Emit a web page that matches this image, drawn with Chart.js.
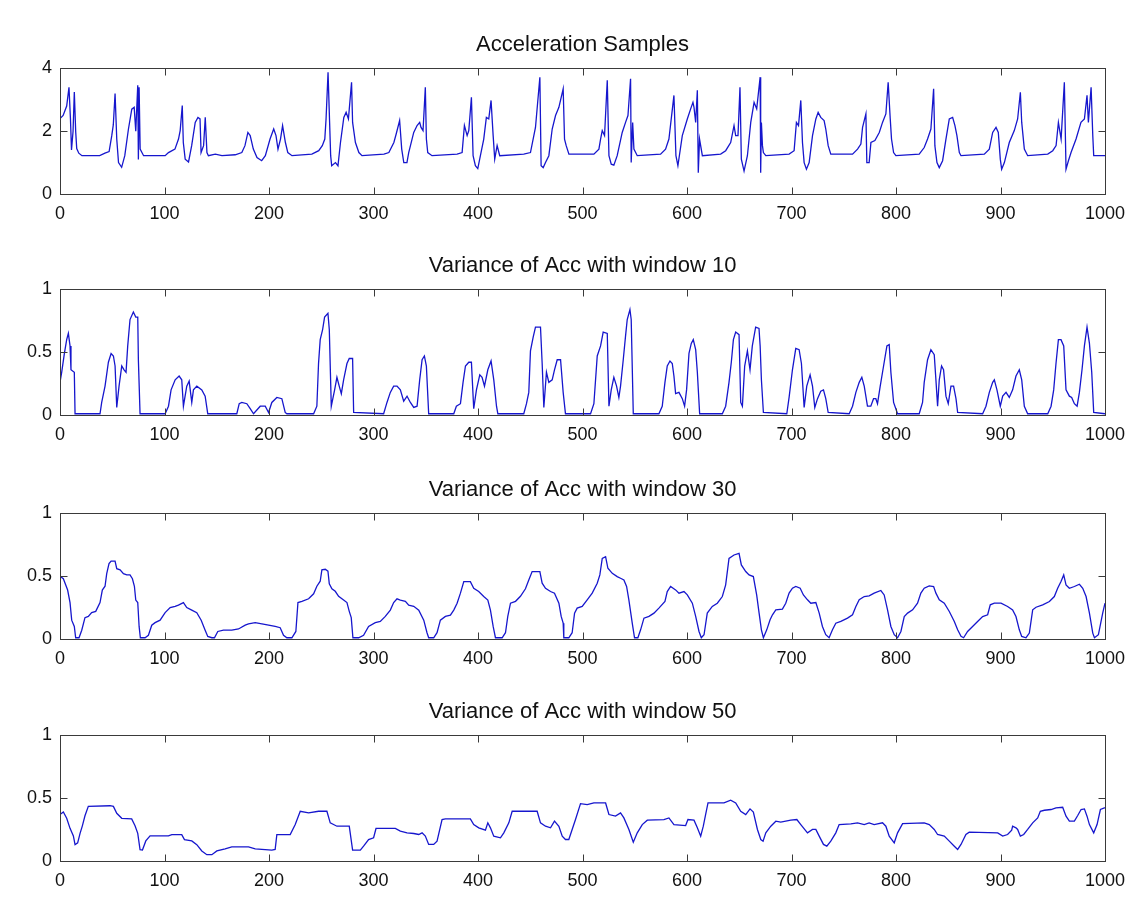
<!DOCTYPE html>
<html>
<head>
<meta charset="utf-8">
<script src="https://cdn.jsdelivr.net/npm/chart.js@4"></script>
<style>
  body { margin: 0; background: #fff; }
  .panel { position: absolute; left: 0; width: 1139px; height: 202px; }
</style>
</head>
<body>
<div class="panel" style="top:32px"><canvas id="c1"></canvas></div>
<div class="panel" style="top:253px"><canvas id="c2"></canvas></div>
<div class="panel" style="top:477px"><canvas id="c3"></canvas></div>
<div class="panel" style="top:699px"><canvas id="c4"></canvas></div>
<script>
// sample index ticks shared by all panels
const xTicks = [0, 100, 200, 300, 400, 500, 600, 700, 800, 900, 1000];
const accTicks = [0, 2, 4];
const varTicks = [0, 0.5, 1];

const titles = [
  'Acceleration Samples',
  'Variance of Acc with window 10',
  'Variance of Acc with window 30',
  'Variance of Acc with window 50'
];

// [sample, value]
const accSamples = [
  [0,2.4],[3,2.5],[6.4,2.8],[8.6,3.4],[10,2.4],[11,1.4],[12.5,2],[13.7,3.25],[15,2],[16,1.45],[18,1.3],[21,1.22],
  [38,1.22],[43,1.3],[47,1.35],[49.5,1.85],[51,2.2],[52.7,3.2],[54.3,1.75],[56,1],[59,0.85],[62,1.22],[65.5,2.07],[68.7,2.7],[71,2.76],[72.5,2],[74.4,3.46],[75,1.1],[75.7,3.4],[76.7,1.43],[80,1.22],
  [100.6,1.22],[103.8,1.32],[110,1.43],[113.4,1.75],[115,2.02],[117,2.82],[118,1.64],[119.8,1.11],[123,1.02],[126,1.54],[129.4,2.28],[132,2.44],[134,2.39],[135,1.32],[137.4,1.54],[139,2.44],[140.6,1.32],[142,1.22],[148.6,1.27],[155,1.22],[167.7,1.25],[174,1.32],
  [177,1.54],[179.8,1.96],[182,1.86],[185,1.43],[188.5,1.16],[193,1.06],[196.5,1.22],[201,1.75],[204.5,2.07],[206.7,1.86],[208.6,1.43],[211,1.75],[213,2.18],[215.7,1.64],[218,1.32],[222,1.22],
  [241,1.27],[247.6,1.38],[251,1.54],[253.4,1.75],[254.6,2.39],[256.5,3.88],[258,2.28],[259,1.22],[260,0.9],[263.6,1],[266,0.9],[268.4,1.64],[271.6,2.44],[273.8,2.6],[276,2.39],[279,3.56],[280,2.28],[282.7,1.64],[286,1.32],[289,1.22],
  [310,1.27],[314.7,1.32],[319.5,1.64],[321.7,1.91],[325,2.34],[327,1.43],[329,1],[332,1],[333.7,1.32],[338.5,1.96],[341.7,2.18],[344.2,2.28],[345.5,2.12],[347.4,2.02],[349.6,3.4],[350.6,1.75],[351.9,1.32],[356,1.22],
  [380,1.27],[384.8,1.32],[387,2.18],[389.6,1.86],[391.2,2.02],[393.7,3.08],[395.3,1.22],[397.5,0.9],[399.8,0.81],[402.3,1.22],[405.5,1.75],[408,2.44],[410.3,2.39],[412.5,2.98],[414.5,1.86],[416,1.11],[418.3,1.54],[420.8,1.22],
  [443.8,1.27],[450.2,1.32],[455,2.12],[459.2,3.72],[460.4,0.9],[462.4,0.84],[464.6,1],[467.8,1.22],[471,2.07],[474.2,2.5],[477.4,2.76],[481.5,3.35],[482.8,1.75],[484.4,1.54],[487,1.27],
  [510.9,1.27],[515.7,1.43],[517.3,1.75],[518.9,2.02],[521.1,1.86],[523.7,3.62],[525.3,1.22],[527.5,0.95],[530,0.92],[533.2,1.22],[538,1.96],[541.2,2.28],[543.5,2.5],[546,3.67],[546.6,1],[548,2.28],[549.2,1.43],[552.4,1.22],
  [574.7,1.27],[579.5,1.43],[582.7,1.75],[587.5,3.14],[589.4,1.22],[591.3,0.9],[595.5,1.86],[600.3,2.39],[603.5,2.71],[605.7,2.92],[606.7,2.76],[608.3,2.28],[609.9,3.3],[610.8,0.68],[612,1.75],[614.7,1.22],
  [632.2,1.27],[637,1.38],[641.8,1.64],[645,2.18],[646.6,1.86],[648.8,1.86],[650.7,3.4],[652,1.11],[654.6,0.73],[657.8,1.22],[661,2.28],[664.2,2.92],[666.7,2.71],[670,3.72],[670.5,0.68],[671.2,2.28],[672.2,1.54],[673.1,1.32],[675.4,1.22],
  [697.7,1.27],[702.5,1.38],[704.7,2.28],[706.7,2.18],[708.9,2.98],[710.5,1.64],[712.1,1],[714.3,0.79],[716.9,1],[720.1,1.86],[723.3,2.39],[725.5,2.6],[728,2.44],[731.2,2.34],[732.8,2.07],[735.1,1.54],[737.6,1.27],
  [758.4,1.27],[763.2,1.43],[766.4,1.59],[768,2.12],[771.2,2.55],[772.1,1],[774.3,1],[776,1.64],[779.8,1.7],[784,1.96],[787.1,2.28],[790.3,2.55],[792.5,3.56],[794.5,2.39],[795.7,1.75],[797.7,1.32],[799.9,1.22],
  [822.2,1.27],[827,1.48],[830.2,1.75],[833.4,2.07],[836,3.35],[837.2,1.54],[839.2,1],[841.4,0.84],[844.6,1.06],[847.8,1.75],[851,2.39],[854.2,2.44],[856.4,2.18],[858.3,1.86],[860.6,1.32],[862.2,1.22],
  [884.5,1.27],[889.3,1.43],[892.5,1.96],[895.7,2.12],[897.9,1.96],[899.8,1.11],[901.1,0.79],[903.7,1],[908.4,1.64],[913.2,2.02],[916.4,2.39],[919,3.24],[920.3,2.28],[922.8,1.43],[926,1.22],
  [945.2,1.27],[950,1.38],[953.2,1.54],[955.4,2.28],[958,1.75],[961.1,3.56],[962.7,0.79],[965,1.06],[967.5,1.32],[972.3,1.75],[977,2.28],[980.3,2.39],[982.8,3.14],[984.1,2.28],[986.7,3.4],[988.3,1.86],[989.2,1.22],[993,1.22],[1000,1.22]
];

const var10 = [
  [0,0.26],[1.6,0.34],[4.2,0.49],[6.4,0.6],[8,0.65],[9.6,0.55],[10.5,0.36],[13.7,0.34],[14.4,0.01],
  [38.3,0.01],[39.9,0.1],[43.1,0.23],[46.3,0.42],[48.9,0.49],[51.1,0.47],[52.7,0.39],[54.3,0.06],[56.5,0.23],[59.1,0.39],[61.3,0.36],[63.2,0.34],[64.8,0.55],[67,0.76],[70.2,0.82],[72.5,0.78],[74.4,0.78],[75,0.44],[76.6,0.01],
  [100.6,0.01],[103.8,0.07],[106.3,0.2],[110.2,0.28],[114,0.31],[116.5,0.28],[118.1,0.07],[121.3,0.23],[123.6,0.27],[126.1,0.1],[127.7,0.2],[130.9,0.23],[135.7,0.2],[138.9,0.15],[141.4,0.01],
  [169.2,0.01],[171.5,0.09],[174,0.1],[178.8,0.09],[182,0.05],[185.2,0.01],[191.6,0.07],[196.4,0.07],[199.6,0.02],[202.7,0.1],[207.5,0.14],[212.3,0.13],[215.5,0.02],[217.1,0.01],
  [242.7,0.01],[245.8,0.07],[247.4,0.41],[249,0.6],[251.3,0.68],[253.2,0.78],[256.4,0.81],[257.7,0.68],[259.6,0.07],[262.8,0.2],[265,0.3],[267.2,0.23],[269.2,0.17],[271.4,0.28],[274.6,0.41],[276.8,0.45],[280,0.45],[281,0.02],
  [309.7,0.01],[312.9,0.1],[316.1,0.18],[319.3,0.23],[322.5,0.23],[325.7,0.2],[328.9,0.11],[332.1,0.15],[335.3,0.1],[338.5,0.06],[341.7,0.07],[344.2,0.28],[346.5,0.44],[348.7,0.47],[350.6,0.39],[352.8,0.01],
  [376.8,0.01],[379.3,0.07],[383.2,0.09],[385.7,0.26],[388,0.39],[391.2,0.42],[393.7,0.42],[395.9,0.05],[398.5,0.2],[401.7,0.32],[403.9,0.3],[406.2,0.23],[409.4,0.36],[412.5,0.43],[415.1,0.28],[417.7,0.07],[419,0.01],
  [443.8,0.01],[446.4,0.09],[448.6,0.18],[450.2,0.51],[452.8,0.62],[455,0.7],[459.8,0.7],[461.4,0.41],[463,0.06],[465.5,0.34],[467.8,0.26],[471,0.28],[473.2,0.36],[475.8,0.44],[479,0.44],[481.5,0.18],[483.7,0.01],
  [507.7,0.01],[510.9,0.09],[514.1,0.47],[517.3,0.55],[519.8,0.66],[523.7,0.65],[525.3,0.07],[527.5,0.2],[530,0.3],[532.6,0.23],[534.8,0.14],[536.4,0.23],[539,0.44],[541.2,0.63],[542.8,0.76],[545.4,0.84],[546.6,0.76],[548.6,0.01],
  [573.1,0.01],[576.3,0.07],[578.9,0.26],[581.1,0.39],[583.7,0.43],[585.9,0.41],[587.5,0.31],[589.1,0.17],[592.3,0.18],[595.5,0.13],[597.7,0.07],[599.6,0.2],[601.9,0.49],[604.1,0.57],[606,0.6],[608.3,0.52],[609.9,0.34],[612.1,0.01],
  [633.8,0.01],[637,0.07],[640.2,0.26],[642.4,0.42],[644.4,0.6],[646.6,0.66],[649.8,0.64],[651.4,0.1],[653,0.07],[655.2,0.39],[657.8,0.51],[660.3,0.36],[662.5,0.55],[665.7,0.7],[668.9,0.69],[670,0.55],[671.2,0.28],[673.1,0.02],
  [695.5,0.01],[697.7,0.14],[700.9,0.36],[704.1,0.53],[707.3,0.52],[709.5,0.41],[712.1,0.06],[714.6,0.23],[717.8,0.32],[720.1,0.23],[722.3,0.06],[724.9,0.13],[728,0.19],[730.6,0.2],[732.8,0.13],[735.1,0.02],
  [755.2,0.01],[758.4,0.07],[761.6,0.18],[764.8,0.26],[767.3,0.3],[769.6,0.23],[772.7,0.07],[775.9,0.07],[778.5,0.13],[780.7,0.13],[782.3,0.09],[784.9,0.23],[788.1,0.39],[791.3,0.55],[793.5,0.56],[795.1,0.34],[797.7,0.1],[801.5,0.01],
  [822.2,0.01],[825.4,0.1],[827,0.26],[830.2,0.44],[833.4,0.52],[836.6,0.48],[838.2,0.28],[839.8,0.07],[841.4,0.28],[843.6,0.39],[845.5,0.36],[847.8,0.15],[850,0.09],[852.6,0.23],[855.1,0.23],[857.4,0.13],[859,0.02],
  [882.9,0.01],[886.1,0.07],[889.3,0.18],[892.5,0.26],[894.1,0.28],[896.6,0.2],[899.8,0.07],[902.1,0.15],[905.3,0.18],[908.4,0.14],[911.6,0.2],[914.8,0.31],[918,0.36],[920.3,0.28],[922.8,0.07],[926,0.01],
  [945.2,0.01],[948.4,0.07],[950.9,0.2],[953.1,0.41],[955.4,0.6],[957.9,0.6],[960.5,0.55],[962.7,0.2],[965.9,0.15],[968.1,0.14],[970.7,0.09],[973.3,0.07],[975.5,0.18],[978,0.36],[980.3,0.55],[982.8,0.7],[985.1,0.57],[987.3,0.34],[989.2,0.02],[1000,0.01]
];

const var30 = [
  [0,0.5],[3.2,0.48],[7.3,0.39],[9.6,0.29],[11.2,0.15],[13.7,0.1],[15,0.01],[18.2,0.01],[20.8,0.07],[23.9,0.17],[27.1,0.18],[30.3,0.21],[34.2,0.22],[38.3,0.29],[40.5,0.39],[43.1,0.42],[44.7,0.52],[46.9,0.6],[48.9,0.62],[52.7,0.62],[54.3,0.56],[57.5,0.55],[60.7,0.52],[63.9,0.51],[67,0.51],[69.3,0.48],[71.2,0.42],[72.5,0.31],[74.4,0.29],[75.7,0.1],[76.9,0.01],
  [81.4,0.01],[84.6,0.03],[87.8,0.11],[91,0.13],[95.8,0.15],[100.6,0.21],[105.4,0.25],[110.2,0.26],[113.3,0.27],[118.1,0.29],[121.3,0.25],[126.1,0.23],[130.9,0.21],[135.1,0.15],[138.9,0.07],[141.4,0.02],[145.3,0.01],[147.8,0.01],
  [151,0.06],[156.4,0.07],[164.4,0.07],[170.8,0.08],[177.2,0.11],[180.4,0.12],[186.8,0.13],[193.2,0.12],[199.6,0.11],[205.9,0.1],[210.7,0.09],[213.9,0.03],[217.1,0.01],[221.9,0.01],
  [225.7,0.06],[227.7,0.29],[231.5,0.3],[237.9,0.32],[242.7,0.36],[245.8,0.42],[249,0.46],[250.6,0.55],[253.8,0.555],[256.4,0.54],[257.7,0.44],[260.2,0.4],[263.4,0.38],[266.6,0.34],[271.4,0.31],[274.6,0.29],[276.8,0.22],[278.7,0.17],[280.3,0.01],[285.8,0.01],
  [290.5,0.03],[295.3,0.1],[301.7,0.13],[306.5,0.14],[311.3,0.18],[316.1,0.23],[319.3,0.29],[322.5,0.32],[325.7,0.31],[330.5,0.3],[333.7,0.27],[338.5,0.26],[343.3,0.23],[348.1,0.15],[351.2,0.05],[352.8,0.01],[357.6,0.01],
  [360.8,0.05],[364,0.15],[368.8,0.18],[373.6,0.19],[376.8,0.23],[380,0.285],[383.2,0.365],[386.4,0.457],[392.7,0.457],[395.9,0.404],[400.7,0.378],[405.5,0.338],[409.4,0.31],[411.9,0.23],[414.5,0.1],[416.7,0.01],[423.1,0.01],
  [426.3,0.05],[428.5,0.18],[431.1,0.285],[435.9,0.3],[440.6,0.34],[445.4,0.4],[448.6,0.47],[451.8,0.537],[459.2,0.537],[461.4,0.444],[464.6,0.404],[469.4,0.378],[473.2,0.365],[477.4,0.285],[479.6,0.18],[481.5,0.126],[482.1,0.01],[486.9,0.01],
  [490.1,0.05],[492.4,0.206],[494.9,0.246],[499.7,0.259],[504.5,0.312],[509.3,0.365],[514.1,0.444],[516.6,0.51],[518.9,0.642],[522.1,0.656],[524.3,0.563],[528.5,0.523],[533.2,0.497],[536.4,0.484],[539.6,0.47],[542.2,0.418],[544.4,0.31],[547.6,0.126],[549.8,0.01],[553,0.01],
  [555.6,0.073],[558.8,0.166],[563.6,0.18],[568.4,0.206],[573.1,0.246],[578.9,0.3],[581.1,0.378],[584.3,0.418],[589.1,0.391],[592.3,0.365],[597.1,0.378],[600.3,0.351],[605.1,0.285],[608.3,0.18],[611.5,0.06],[613.7,0.01],
  [616.3,0.034],[619.4,0.206],[624.2,0.259],[629,0.285],[633.8,0.338],[637,0.431],[640.2,0.642],[645,0.669],[649.8,0.682],[652,0.59],[656.2,0.537],[659.4,0.51],[663.5,0.497],[666.7,0.35],[669,0.206],[671.2,0.073],[673.1,0.01],
  [676.3,0.073],[679.5,0.153],[681.8,0.193],[685,0.232],[691.3,0.238],[694.5,0.285],[697.7,0.365],[700.9,0.404],[704.1,0.418],[708.3,0.404],[711.4,0.351],[715.3,0.312],[718.5,0.285],[723.3,0.29],[726.5,0.206],[729.6,0.1],[732.8,0.034],[736,0.01],
  [739.2,0.073],[742.4,0.126],[747.2,0.14],[753.6,0.166],[758.4,0.193],[761.6,0.259],[764.8,0.312],[769.6,0.338],[774.3,0.343],[779.1,0.365],[785.5,0.386],[788.7,0.351],[791.9,0.232],[795.1,0.1],[798.3,0.034],[801.5,0.01],
  [804.7,0.06],[807.9,0.179],[811.1,0.206],[815.9,0.232],[820.6,0.285],[823.8,0.365],[827,0.404],[831.8,0.423],[836,0.418],[838.2,0.365],[841.4,0.312],[846.2,0.285],[851,0.219],[855.8,0.14],[859,0.073],[862.2,0.021],[864.7,0.01],
  [868.5,0.06],[873.3,0.1],[878.1,0.14],[882.9,0.179],[887.7,0.193],[890.2,0.272],[894.1,0.285],[900.5,0.285],[906.8,0.259],[911.6,0.232],[914.8,0.179],[918,0.073],[920.3,0.021],[924.4,0.01],
  [927.6,0.047],[930.8,0.232],[934,0.253],[940.4,0.272],[946.8,0.298],[951.5,0.338],[954.7,0.404],[957.9,0.457],[960.5,0.51],[962.7,0.431],[965.9,0.404],[970.7,0.418],[975.5,0.436],[978.7,0.404],[981.9,0.338],[985.1,0.206],[988.3,0.047],[989.9,0.01],
  [993.7,0.034],[997.8,0.206],[1000,0.285]
];

const var50 = [
  [0,0.37],[3.2,0.39],[6.4,0.34],[9.6,0.26],[12.8,0.2],[14.4,0.13],[16.9,0.145],[19.2,0.22],[21.4,0.28],[23.9,0.36],[27.1,0.435],[47.9,0.44],[51.1,0.435],[54.3,0.38],[59.1,0.34],[68.6,0.335],[71.8,0.28],[74.4,0.22],[76.6,0.09],[78.9,0.087],
  [82.1,0.16],[86.2,0.2],[103.8,0.2],[107,0.21],[116.5,0.21],[119.1,0.17],[126.1,0.16],[130.9,0.13],[135.7,0.08],[140.5,0.05],[145.3,0.05],[150.1,0.08],[158,0.097],[164.4,0.113],[180.4,0.113],[186.8,0.097],[202.7,0.087],[205.9,0.092],
  [207.5,0.21],[215.5,0.21],[220.3,0.21],[225.1,0.29],[229.9,0.396],[237.9,0.383],[247.4,0.396],[255.4,0.396],[258.6,0.304],[265,0.277],[276.8,0.277],[280,0.087],[287.4,0.087],[290.5,0.118],[295.3,0.171],[300.1,0.185],[302.4,0.259],[320.9,0.259],
  [325.7,0.238],[332.1,0.224],[338.5,0.219],[343.3,0.211],[346.5,0.224],[349.6,0.198],[352.8,0.132],[357.6,0.132],[360.8,0.158],[365.6,0.33],[368.8,0.335],[383.2,0.335],[392.7,0.335],[395.9,0.29],[400.7,0.264],[407.1,0.245],[409.4,0.304],[411.9,0.264],[415.1,0.198],[421.5,0.185],
  [424.7,0.224],[429.5,0.304],[432.7,0.396],[440.6,0.396],[456.6,0.396],[459.8,0.304],[464.6,0.277],[469.4,0.264],[473.2,0.317],[477.4,0.277],[480.6,0.198],[483.7,0.171],[486.9,0.171],[490.1,0.251],[493.3,0.33],[498.1,0.457],[504.5,0.449],[510.9,0.462],[522.1,0.462],
  [525.3,0.37],[531.6,0.357],[536.4,0.383],[539.6,0.343],[544.4,0.251],[548.6,0.15],[552.4,0.224],[557.2,0.29],[562,0.325],[577.9,0.33],[582.7,0.343],[587.5,0.29],[598.7,0.282],[600.9,0.33],[606.7,0.325],[609.9,0.264],[613.1,0.198],[615.6,0.277],[617.8,0.37],[620.1,0.462],
  [635.4,0.462],[641.8,0.484],[646.6,0.462],[651.4,0.396],[656.2,0.37],[660.3,0.415],[663.5,0.39],[667.4,0.251],[670.6,0.171],[672.8,0.158],[675.4,0.224],[680.2,0.277],[685,0.317],[689.7,0.309],[699.3,0.325],[705.1,0.33],[708.9,0.29],[715.3,0.224],[720.1,0.251],[723.3,0.251],
  [726.5,0.198],[730.6,0.132],[733.8,0.118],[737.6,0.158],[742.4,0.224],[745.6,0.29],[756.8,0.296],[763.2,0.304],[769.6,0.29],[774.3,0.304],[779.1,0.29],[787.1,0.304],[790.3,0.277],[793.5,0.198],[798.3,0.145],[801.5,0.224],[806.3,0.298],[827,0.304],
  [831.8,0.29],[836.6,0.251],[839.8,0.211],[846.2,0.198],[851,0.158],[855.8,0.118],[859,0.092],[862.2,0.132],[866.9,0.211],[870.1,0.23],[897.3,0.224],[902.1,0.198],[906.8,0.211],[910.7,0.245],[911.6,0.277],[914.8,0.264],[916.4,0.251],[919,0.198],[922.2,0.211],
  [926,0.251],[930.8,0.304],[935.6,0.343],[938.1,0.396],[942,0.404],[948.4,0.41],[953.1,0.423],[959.5,0.428],[962.7,0.357],[965.9,0.317],[970.7,0.317],[973.9,0.362],[977.1,0.41],[980.3,0.415],[982.8,0.357],[985.1,0.29],[989.2,0.224],[992.4,0.29],[995.6,0.41],[999.4,0.423],[1000,0.423]
];

const series = [accSamples, var10, var30, var50];
const yRanges = [[0, 4, accTicks], [0, 1, varTicks], [0, 1, varTicks], [0, 1, varTicks]];

const FONT = '"Liberation Sans", Arial, Helvetica, sans-serif';

// MATLAB-like frame with inward ticks
const boxPlugin = {
    id: 'matlabBox',
    afterDatasetsDraw(chart) {
        const { ctx, chartArea: a, scales } = chart;
        ctx.save();
        ctx.strokeStyle = '#3a3a3a';
        ctx.lineWidth = 1;
        const L = Math.round(a.left) + 0.5, R = Math.round(a.right) + 0.5;
        const T = Math.round(a.top) + 0.5, B = Math.round(a.bottom) + 0.5;
        ctx.strokeRect(L, T, R - L, B - T);
        ctx.beginPath();
        scales.x.ticks.forEach(t => {
            const px = Math.round(scales.x.getPixelForValue(t.value)) + 0.5;
            ctx.moveTo(px, B); ctx.lineTo(px, B - 7);
            ctx.moveTo(px, T); ctx.lineTo(px, T + 7);
        });
        scales.y.ticks.forEach(t => {
            const py = Math.round(scales.y.getPixelForValue(t.value)) + 0.5;
            ctx.moveTo(L, py); ctx.lineTo(L + 7, py);
            ctx.moveTo(R, py); ctx.lineTo(R - 7, py);
        });
        ctx.stroke();
        ctx.restore();
    }
};

function drawPanel(id, idx) {
    const ctx = document.getElementById(id).getContext('2d');
    const [ymin, ymax, yt] = yRanges[idx];
    new Chart(ctx, {
        type: 'line',
        data: {
            datasets: [{
                data: series[idx].map(p => ({ x: p[0], y: p[1] })),
                borderColor: 'rgb(22, 22, 205)',
                borderWidth: 1.3,
                pointRadius: 0,
                tension: 0,
                fill: false
            }]
        },
        options: {
            responsive: true,
            maintainAspectRatio: false,
            animation: false,
            layout: { padding: { top: 0, right: 34, bottom: 0, left: 0 } },
            plugins: {
                legend: { display: false },
                tooltip: { enabled: false },
                title: {
                    display: true,
                    text: titles[idx],
                    fullSize: false,
                    color: '#111',
                    font: { family: FONT, size: 22, weight: 'normal' },
                    padding: { top: 0, bottom: 10 }
                }
            },
            scales: {
                x: {
                    type: 'linear',
                    min: 0,
                    max: 1000,
                    afterFit: s => { s.height = 40; },
                    afterBuildTicks: s => { s.ticks = xTicks.map(v => ({ value: v })); },
                    grid: { display: false, drawTicks: false },
                    border: { display: false },
                    ticks: {
                        color: '#111',
                        font: { family: FONT, size: 18 },
                        padding: 9,
                        maxRotation: 0,
                        autoSkip: false,
                        callback: v => String(v)
                    }
                },
                y: {
                    min: ymin,
                    max: ymax,
                    afterFit: s => { s.width = 60; },
                    afterBuildTicks: s => { s.ticks = yt.map(v => ({ value: v })); },
                    grid: { display: false, drawTicks: false },
                    border: { display: false },
                    ticks: {
                        color: '#111',
                        font: { family: FONT, size: 18 },
                        padding: 8,
                        callback: v => String(v)
                    }
                }
            }
        },
        plugins: [boxPlugin]
    });
}

['c1', 'c2', 'c3', 'c4'].forEach((id, i) => drawPanel(id, i));
</script>
</body>
</html>
